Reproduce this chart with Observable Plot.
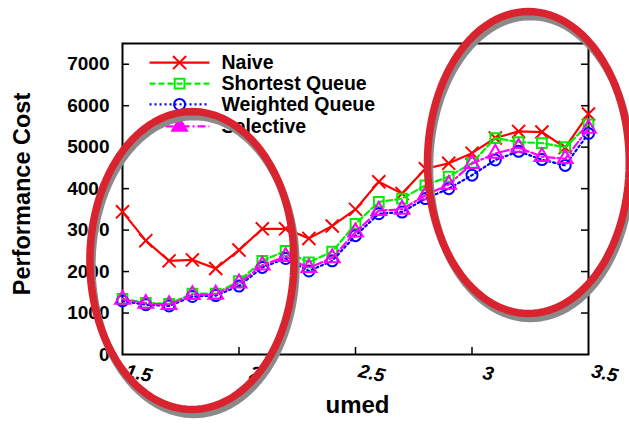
<!DOCTYPE html>
<html>
<head>
<meta charset="utf-8">
<script src="https://cdn.jsdelivr.net/npm/d3@7"></script>
<script src="https://cdn.jsdelivr.net/npm/@observablehq/plot@0.6"></script>
<style>
  html, body { margin: 0; padding: 0; background: #fff; overflow: hidden; }
</style>
</head>
<body>
<div id="chart"></div>
<script>
// ---- data ----
const umed = [1.5, 1.6, 1.7, 1.8, 1.9, 2.0, 2.1, 2.2, 2.3, 2.4, 2.5, 2.6, 2.7, 2.8, 2.9, 3.0, 3.1, 3.2, 3.3, 3.4, 3.5];
const naive         = [3440, 2745, 2258, 2282, 2073, 2518, 3030, 3030, 2800, 3100, 3500, 4165, 3880, 4480, 4610, 4855, 5220, 5380, 5365, 4990, 5800];
const shortestQueue = [1343, 1245, 1220, 1470, 1470, 1770, 2258, 2500, 2220, 2480, 3150, 3680, 3760, 4080, 4290, 4620, 5220, 5120, 5100, 5000, 5550];
const weightedQueue = [1290, 1200, 1170, 1400, 1420, 1650, 2100, 2316, 2015, 2258, 2866, 3394, 3435, 3760, 4000, 4325, 4690, 4900, 4700, 4560, 5330];
const selective     = [1330, 1230, 1200, 1440, 1450, 1720, 2150, 2360, 2090, 2330, 2950, 3470, 3500, 3840, 4100, 4600, 4850, 4990, 4770, 4720, 5450];
const seriesNames = ["Naive", "Shortest Queue", "Weighted Queue", "Selective"];
const xTicks = [1.5, 2, 2.5, 3, 3.5];
const xTickLabels = ["1.5", "2", "2.5", "3", "3.5"];
const yTicks = [0, 1000, 2000, 3000, 4000, 5000, 6000, 7000];
const xLabel = "umed";
const yLabel = "Performance Cost";

// ---- styling ----
const seriesValues = [naive, shortestQueue, weightedQueue, selective];
const colors = ["#ff0000", "#00ee00", "#0000ff", "#ff00ff"];
const dashes = [null, "6,3", "2,3", "8,3,2,3"];
const symbols = ["times", "square", "circle", "triangle"];

const W = 629, H = 430;
const mL = 122, mR = 41, mT = 43, mB = 76;
const frameW = W - mL - mR, frameH = H - mT - mB;

const rows = seriesNames.flatMap((name, s) =>
  umed.map((x, i) => ({series: name, s, x, y: seriesValues[s][i]})));

// legend placement (data units inside the frame)
const legendY = [7040, 6530, 6030, 5500];
const legendX1 = 1.616, legendX2 = 1.873, legendMarkX = 1.745, legendTextX = 1.925;

// highlight ellipses (annotation shapes, in data units)
const ellipseCx = [1.798, 3.242];
const ellipseCy = [2267, 4630];
const ellipseRx = [0.438, 0.433];
const ellipseRy = [3593, 3641];
const ellipsePts = ellipseCx.flatMap((cx, k) =>
  d3.range(0, 361, 3).map(a => ({
    k,
    x: cx + ellipseRx[k] * Math.cos(a * Math.PI / 180),
    y: ellipseCy[k] + ellipseRy[k] * Math.sin(a * Math.PI / 180)
  })));

const marks = [
  Plot.frame({stroke: "black", strokeWidth: 2}),
  // inward ticks
  Plot.tickY(yTicks.slice(1), {y: d => d, insetRight: frameW - 7, stroke: "black", strokeWidth: 1.5}),
  Plot.tickY(yTicks.slice(1), {y: d => d, insetLeft: frameW - 7, stroke: "black", strokeWidth: 1.5}),
  Plot.tickX(xTicks.slice(1, -1), {x: d => d, insetTop: frameH - 7, stroke: "black", strokeWidth: 1.5}),
  // tick labels
  Plot.text(yTicks, {y: d => d, frameAnchor: "left", dx: -13, textAnchor: "end", text: d => String(d),
    fontSize: 19, fontWeight: "bold"}),
  Plot.text(xTicks, {x: d => d, frameAnchor: "bottom", dy: 25, dx: 15, rotate: 12, fontStyle: "italic",
    text: (d, i) => xTickLabels[i], fontSize: 19, fontWeight: "bold"}),
  // axis titles
  Plot.text([yLabel], {frameAnchor: "left", dx: -100, dy: -5, rotate: -90, textAnchor: "middle",
    text: d => d, fontSize: 23.5, fontWeight: "bold"}),
  Plot.text([xLabel], {frameAnchor: "bottom", dx: 2, dy: 58, textAnchor: "middle", text: d => d,
    fontSize: 24, fontWeight: "bold"})
];

seriesNames.forEach((name, s) => {
  const data = rows.filter(r => r.s === s);
  marks.push(Plot.line(data, {x: "x", y: "y", stroke: colors[s], strokeWidth: 2.2,
    strokeDasharray: dashes[s] ?? undefined}));
  marks.push(Plot.dot(data, {x: "x", y: "y", symbol: symbols[s], r: s === 0 ? 6 : 5.5,
    stroke: colors[s], strokeWidth: 2, fill: "none"}));
  // legend entry
  marks.push(Plot.link([name], {x1: legendX1, x2: legendX2, y1: legendY[s], y2: legendY[s],
    stroke: colors[s], strokeWidth: 2.2, strokeDasharray: dashes[s] ?? undefined}));
  marks.push(Plot.dot([name], {x: legendMarkX, y: legendY[s], symbol: symbols[s], r: s === 0 ? 6 : 5.5,
    stroke: colors[s], strokeWidth: 2, fill: s === 3 ? colors[s] : "none"}));
  marks.push(Plot.text([name], {x: legendTextX, y: legendY[s], text: d => d, textAnchor: "start",
    fontSize: 19.5, fontWeight: "bold"}));
});

// ellipses (shadow then red)
[0, 1].forEach(k => {
  const pts = ellipsePts.filter(p => p.k === k);
  marks.push(Plot.line(pts, {x: "x", y: "y", stroke: "#8a8a8a", strokeWidth: 7.5, dx: 2, dy: 5}));
  marks.push(Plot.line(pts, {x: "x", y: "y", stroke: "#d9232e", strokeWidth: 7.5}));
});

const chart = Plot.plot({
  width: W, height: H,
  marginLeft: mL, marginRight: mR, marginTop: mT, marginBottom: mB,
  x: {domain: [1.5, 3.5], axis: null},
  y: {domain: [0, 7500], axis: null},
  style: {fontFamily: "'Liberation Sans', Arial, sans-serif", color: "black", background: "white", overflow: "visible"},
  marks
});
document.getElementById("chart").appendChild(chart);
</script>
</body>
</html>
